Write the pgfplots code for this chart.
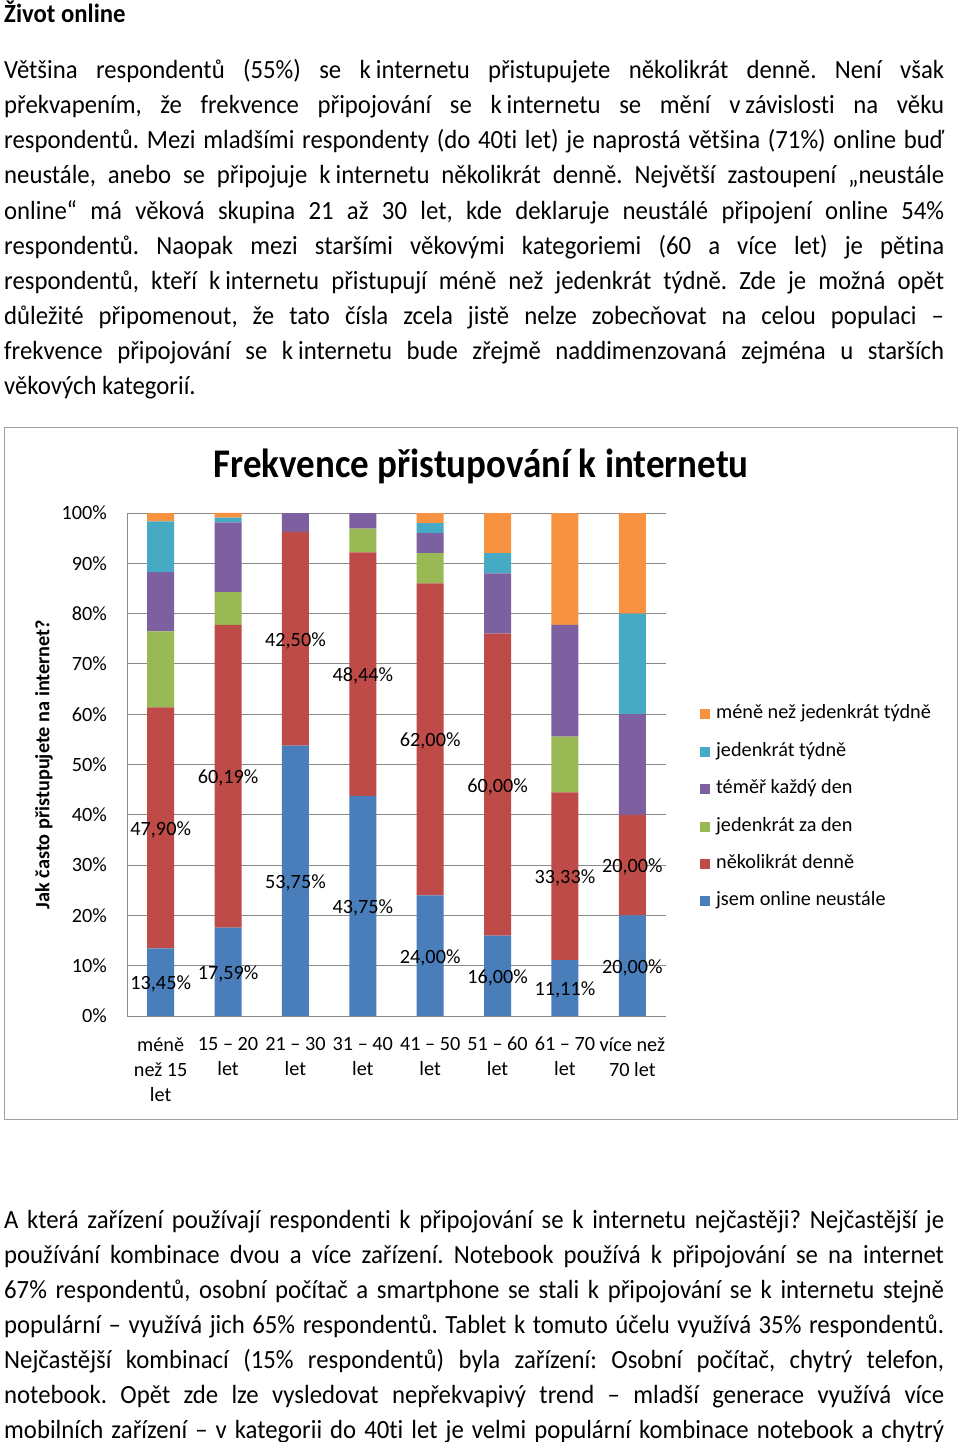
\documentclass[border=0pt]{standalone}
\usepackage{fontspec}
\setmainfont{Carlito}[Ligatures=NoCommon]
\usepackage{pgfplots}
\pgfplotsset{compat=1.18}
\definecolor{cblue}{HTML}{4A7EBB}
\definecolor{cred}{HTML}{BE4B48}
\definecolor{cgreen}{HTML}{98B954}
\definecolor{cpurple}{HTML}{7D60A0}
\definecolor{cteal}{HTML}{46AAC5}
\definecolor{corange}{HTML}{F69240}
\definecolor{cgrid}{HTML}{8A8A8A}
\frenchspacing
\newcommand{\bodyfont}{\fontsize{24.75}{30}\selectfont}
\newcommand{\chartfont}{\fontsize{20.25}{25}\selectfont}
\newcommand{\jline}[2]{\node[anchor=base west,inner sep=0pt,yscale=1.06,font=\bodyfont] at (4,-#1) {\makebox[940pt][s]{#2}};}
\newcommand{\lline}[2]{\node[anchor=base west,inner sep=0pt,yscale=1.06,font=\bodyfont] at (4,-#1) {#2};}
\newcommand{\nb}{\kern0.2em}
\begin{document}
\begin{tikzpicture}
\begin{scope}[x=1pt,y=1pt]
\useasboundingbox[fill=white] (0,0) rectangle (960,-1442);
\node[anchor=base west,inner sep=0pt,yscale=1.06,font=\bodyfont\bfseries] at (4,-23) {Život online};
\jline{79}{Většina respondentů (55\%) se k\nb internetu přistupujete několikrát denně. Není však}
\jline{114}{překvapením, že frekvence připojování se k\nb internetu se mění v\nb závislosti na věku}
\jline{149}{respondentů. Mezi mladšími respondenty (do 40ti let) je naprostá většina (71\%) online buď}
\jline{184}{neustále, anebo se připojuje k\nb internetu několikrát denně. Největší zastoupení „neustále}
\jline{219}{online“ má věková skupina 21 až 30 let, kde deklaruje neustálé připojení online 54\%}
\jline{254}{respondentů. Naopak mezi staršími věkovými kategoriemi (60 a více let) je pětina}
\jline{289}{respondentů, kteří k\nb internetu přistupují méně než jedenkrát týdně. Zde je možná opět}
\jline{324}{důležité připomenout, že tato čísla zcela jistě nelze zobecňovat na celou populaci –}
\jline{359}{frekvence připojování se k\nb internetu bude zřejmě naddimenzovaná zejména u starších}
\lline{394}{věkových kategorií.}
\jline{1228}{A která zařízení používají respondenti k připojování se k internetu nejčastěji? Nejčastější je}
\jline{1263}{používání kombinace dvou a více zařízení. Notebook používá k připojování se na internet}
\jline{1298}{67\% respondentů, osobní počítač a smartphone se stali k připojování se k internetu stejně}
\jline{1333}{populární – využívá jich 65\% respondentů. Tablet k tomuto účelu využívá 35\% respondentů.}
\jline{1368}{Nejčastější kombinací (15\% respondentů) byla zařízení: Osobní počítač, chytrý telefon,}
\jline{1403}{notebook. Opět zde lze vysledovat nepřekvapivý trend – mladší generace využívá více}
\jline{1438}{mobilních zařízení – v kategorii do 40ti let je velmi populární kombinace notebook a chytrý}
\draw[cgrid!80,line width=1pt] (4,-427) rectangle (957,-1119);
\end{scope}
\begin{axis}[
  at={(127pt,-1016pt)}, anchor=south west,
  scale only axis, width=539pt, height=503pt,
  ybar stacked, bar width=27pt,
  xmin=-0.5, xmax=7.5, ymin=0, ymax=100,
  axis x line*=bottom, axis y line*=left,
  axis line style={cgrid,line width=1pt,-},
  ymajorgrids, grid style={cgrid,line width=1pt},
  major tick length=0pt,
  ytick={0,10,...,100},
  yticklabels={0\%,10\%,20\%,30\%,40\%,50\%,60\%,70\%,80\%,90\%,100\%},
  xtick={0,...,7},
  xticklabels={{méně\\než 15\\let},{15 – 20\\let},{21 – 30\\let},{31 – 40\\let},{41 – 50\\let},{51 – 60\\let},{61 – 70\\let},{více než\\70 let}},
  yticklabel style={font=\chartfont,anchor=east,inner sep=0pt,xshift=-20pt},
  xticklabel style={font=\chartfont,align=center,anchor=north,inner sep=0pt,yshift=-21pt},
  title={Frekvence přistupování k internetu},
  title style={font=\fontsize{37}{40}\selectfont\bfseries,yscale=1.1,at={(axis description cs:0.657,1.0577)},anchor=base},
  ylabel={Jak často přistupujete na internet?},
  ylabel style={font=\chartfont\bfseries,at={(axis description cs:-0.154,0.5)},anchor=center},
  legend style={at={(rel axis cs:1.063,0.619)},anchor=north west,draw=none,fill=none,
    inner sep=0pt,font=\chartfont,/tikz/column sep=6pt,/tikz/row sep=18.4pt,
    nodes={inner sep=0pt,text height=14pt,text depth=5pt,anchor=west}},
  legend cell align=left,
  reverse legend,
  legend image code/.code={\fill[#1] (0pt,-5pt) rectangle (10pt,5pt);},
  clip=false,
]
\addplot[fill=cblue,draw=none] coordinates {(0,13.45) (1,17.59) (2,53.75) (3,43.75) (4,24) (5,16) (6,11.11) (7,20)};
\addplot[fill=cred,draw=none] coordinates {(0,47.90) (1,60.19) (2,42.50) (3,48.44) (4,62) (5,60) (6,33.33) (7,20)};
\addplot[fill=cgreen,draw=none] coordinates {(0,15.13) (1,6.48) (2,0) (3,4.69) (4,6) (5,0) (6,11.11) (7,0)};
\addplot[fill=cpurple,draw=none] coordinates {(0,11.76) (1,13.89) (2,3.75) (3,3.12) (4,4) (5,12) (6,22.22) (7,20)};
\addplot[fill=cteal,draw=none] coordinates {(0,10.08) (1,0.93) (2,0) (3,0) (4,2) (5,4) (6,0) (7,20)};
\addplot[fill=corange,draw=none] coordinates {(0,1.68) (1,0.93) (2,0) (3,0) (4,2) (5,8) (6,22.23) (7,20)};
\legend{jsem online neustále,několikrát denně,jedenkrát za den,téměř každý den,jedenkrát týdně,méně než jedenkrát týdně}
\end{axis}
\begin{axis}[
  at={(127pt,-1016pt)}, anchor=south west,
  scale only axis, width=539pt, height=503pt,
  xmin=-0.5, xmax=7.5, ymin=0, ymax=100,
  hide axis, clip=false,
  nodes near coords, nodes near coords align=center,
  every node near coord/.append style={font=\chartfont,text=black,inner sep=0pt,yshift=-2pt},
  point meta=explicit symbolic,
]
\addplot[only marks,mark=none] coordinates {(0,6.725)[13,45\%] (1,8.795)[17,59\%] (2,26.875)[53,75\%] (3,21.875)[43,75\%] (4,12)[24,00\%] (5,8)[16,00\%] (6,5.555)[11,11\%] (7,10)[20,00\%]};
\addplot[only marks,mark=none] coordinates {(0,37.40)[47,90\%] (1,47.685)[60,19\%] (2,75.0)[42,50\%] (3,67.97)[48,44\%] (4,55)[62,00\%] (5,46)[60,00\%] (6,27.775)[33,33\%] (7,30)[20,00\%]};
\end{axis}
\end{tikzpicture}
\end{document}
